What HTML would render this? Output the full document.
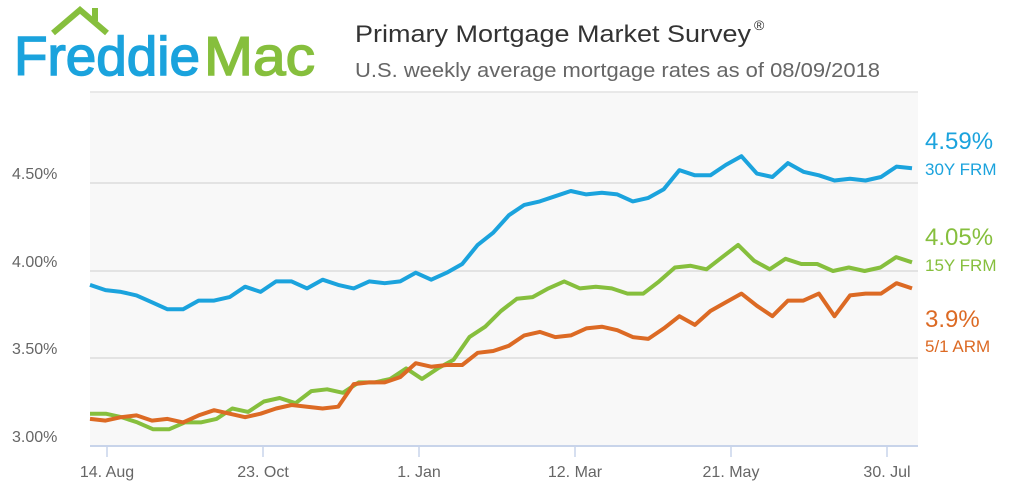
<!DOCTYPE html>
<html><head><meta charset="utf-8"><style>
body{margin:0;background:#fff;width:1022px;height:483px;overflow:hidden;font-family:"Liberation Sans",sans-serif}
</style></head><body>
<svg width="1022" height="483" xmlns="http://www.w3.org/2000/svg" font-family="Liberation Sans, sans-serif">
<rect x="90" y="92" width="828" height="354" fill="#f8f8f8"/>
<line x1="90" y1="92" x2="918" y2="92" stroke="#e2e2e2" stroke-width="1.5"/>
<g stroke="#dcdcdc" stroke-width="1.5">
<line x1="90" y1="183" x2="918" y2="183"/>
<line x1="90" y1="271" x2="918" y2="271"/>
<line x1="90" y1="358" x2="918" y2="358"/>
</g>
<line x1="90" y1="446" x2="918" y2="446" stroke="#c8d4ea" stroke-width="2"/>
<g stroke="#c8d4ea" stroke-width="1.5">
<line x1="107" y1="446" x2="107" y2="457"/><line x1="263" y1="446" x2="263" y2="457"/>
<line x1="419" y1="446" x2="419" y2="457"/><line x1="575" y1="446" x2="575" y2="457"/>
<line x1="731" y1="446" x2="731" y2="457"/><line x1="887" y1="446" x2="887" y2="457"/>
</g>
<g fill="#666" font-size="16" text-anchor="middle">
<text x="107" y="477">14. Aug</text><text x="263" y="477">23. Oct</text><text x="419" y="477">1. Jan</text>
<text x="575" y="477">12. Mar</text><text x="731" y="477">21. May</text><text x="887" y="477">30. Jul</text>
</g>
<g fill="#666" font-size="16">
<text x="12" y="179">4.50%</text><text x="12" y="267">4.00%</text><text x="12" y="354">3.50%</text><text x="12" y="442">3.00%</text>
</g>
<polyline id="p30" fill="none" stroke="#1ba3dd" stroke-width="4" stroke-linejoin="round"/>
<polyline id="p15" fill="none" stroke="#86bf3d" stroke-width="4" stroke-linejoin="round"/>
<polyline id="parm" fill="none" stroke="#dc6a24" stroke-width="4" stroke-linejoin="round"/>
<text x="925" y="149" fill="#1ba3dd" font-size="24">4.59%</text>
<text x="925" y="175" fill="#1ba3dd" font-size="17">30Y FRM</text>
<text x="925" y="245" fill="#86bf3d" font-size="24">4.05%</text>
<text x="925" y="271" fill="#86bf3d" font-size="17">15Y FRM</text>
<text x="925" y="327" fill="#dc6a24" font-size="24">3.9%</text>
<text x="925" y="352" fill="#dc6a24" font-size="17">5/1 ARM</text>
<text x="355" y="42" fill="#333" font-size="24" textLength="396" lengthAdjust="spacingAndGlyphs">Primary Mortgage Market Survey</text>
<text x="754" y="30" fill="#333" font-size="14">®</text>
<text x="355" y="77" fill="#666" font-size="20" textLength="525" lengthAdjust="spacingAndGlyphs">U.S. weekly average mortgage rates as of 08/09/2018</text>
<polyline points="53,33 80,10 107,33" fill="none" stroke="#86bf3d" stroke-width="6" stroke-linejoin="miter"/>
<rect x="92" y="8" width="6" height="13" fill="#86bf3d"/>
<text x="14" y="75" fill="#1ba3dd" stroke="#1ba3dd" stroke-width="1.5" font-size="55" textLength="186" lengthAdjust="spacingAndGlyphs">Freddie</text>
<text x="204" y="75" fill="#86bf3d" stroke="#86bf3d" stroke-width="1.5" font-size="55" textLength="111" lengthAdjust="spacingAndGlyphs">Mac</text>
</svg>
<script>
var a30=[3.92,3.89,3.88,3.86,3.82,3.78,3.78,3.83,3.83,3.85,3.91,3.88,3.94,3.94,3.90,3.95,3.92,3.90,3.94,3.93,3.94,3.99,3.95,3.99,4.04,4.15,4.22,4.32,4.38,4.40,4.43,4.46,4.44,4.45,4.44,4.40,4.42,4.47,4.58,4.55,4.55,4.61,4.66,4.56,4.54,4.62,4.57,4.55,4.52,4.53,4.52,4.54,4.60,4.59];
var a15=[3.18,3.18,3.16,3.13,3.09,3.09,3.13,3.13,3.15,3.21,3.19,3.25,3.27,3.24,3.31,3.32,3.30,3.36,3.36,3.38,3.44,3.38,3.44,3.49,3.62,3.68,3.77,3.84,3.85,3.90,3.94,3.90,3.91,3.90,3.87,3.87,3.94,4.02,4.03,4.01,4.08,4.15,4.06,4.01,4.07,4.04,4.04,4.00,4.02,4.00,4.02,4.08,4.05];
var aA=[3.15,3.14,3.16,3.17,3.14,3.15,3.13,3.17,3.20,3.18,3.16,3.18,3.21,3.23,3.22,3.21,3.22,3.35,3.36,3.36,3.39,3.47,3.45,3.46,3.46,3.53,3.54,3.57,3.63,3.65,3.62,3.63,3.67,3.68,3.66,3.62,3.61,3.67,3.74,3.69,3.77,3.82,3.87,3.80,3.74,3.83,3.83,3.87,3.74,3.86,3.87,3.87,3.93,3.90];
function pts(a){var n=a.length,s=(912-90)/(n-1);return a.map(function(v,i){return (90+i*s).toFixed(1)+","+(445-(v-3)*174).toFixed(1)}).join(" ")}
document.getElementById("p30").setAttribute("points",pts(a30));
document.getElementById("p15").setAttribute("points",pts(a15));
document.getElementById("parm").setAttribute("points",pts(aA));
</script>
</body></html>
